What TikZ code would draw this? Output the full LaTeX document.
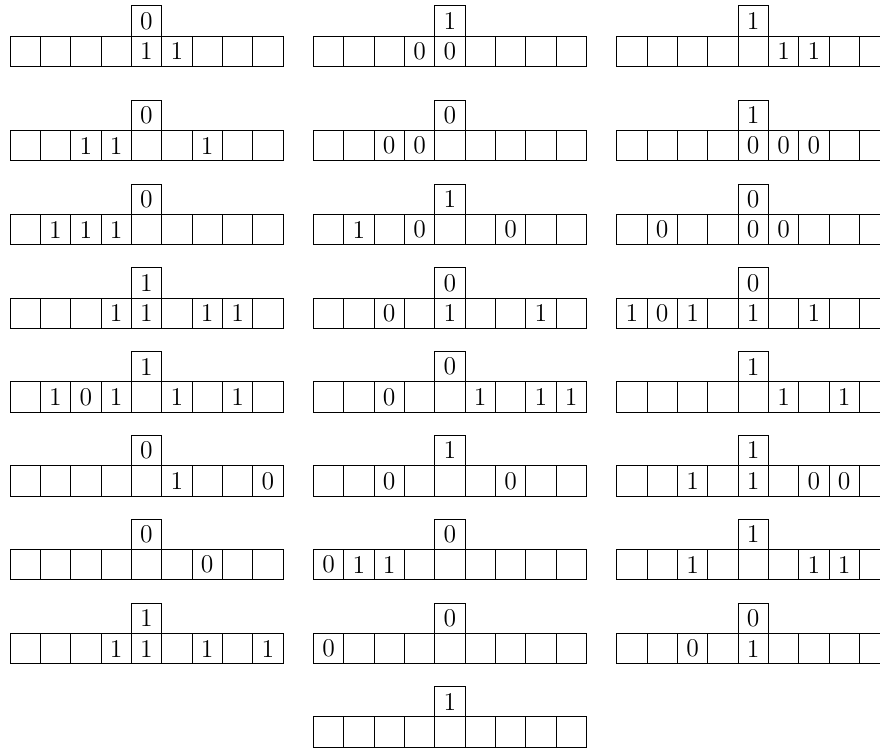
\documentclass[tikz,border=0pt]{standalone}
\usepackage{tikz}

\begin{document}
\begin{tikzpicture}[
    x=0.5cm, y=0.5cm,
    cell/.style={draw, minimum size=0.5cm, inner sep=0pt, outer sep=0pt, font=\large},
    digit/.style={inner sep=0pt, font=\large}
]
\useasboundingbox (0,0) rectangle (29.01,-24.69);
% column / row top / upper bit / filled cells (index/value)
\foreach \cx/\ry/\up/\vals [count=\n] in {
    0/1.19/0/{4/1,5/1}, 1/1.19/1/{3/0,4/0}, 2/1.19/1/{5/1,6/1},
    0/4.30/0/{2/1,3/1,6/1}, 1/4.30/0/{2/0,3/0}, 2/4.30/1/{4/0,5/0,6/0},
    0/7.07/0/{1/1,2/1,3/1}, 1/7.07/1/{1/1,3/0,6/0}, 2/7.07/0/{1/0,4/0,5/0},
    0/9.83/1/{3/1,4/1,6/1,7/1}, 1/9.83/0/{2/0,4/1,7/1}, 2/9.83/0/{0/1,1/0,2/1,4/1,6/1},
    0/12.59/1/{1/1,2/0,3/1,5/1,7/1}, 1/12.59/0/{2/0,5/1,7/1,8/1}, 2/12.59/1/{5/1,7/1},
    0/15.35/0/{5/1,8/0}, 1/15.35/1/{2/0,6/0}, 2/15.35/1/{2/1,4/1,6/0,7/0},
    0/18.11/0/{6/0}, 1/18.11/0/{0/0,1/1,2/1}, 2/18.11/1/{2/1,6/1,7/1},
    0/20.88/1/{3/1,4/1,6/1,8/1}, 1/20.88/0/{0/0}, 2/20.88/0/{2/0,4/1}} {
  \foreach \i in {0,...,8}
    \node[cell] (d\n-\i) at (10*\cx+\i+0.83, -\ry-0.5) {};
  \node[cell] (d\n-t) at (10*\cx+4.83, -\ry+0.5) {\up};
  \foreach \i/\v in \vals
    \node[digit] (v\n-\i) at (d\n-\i) {\v};
}
% last one, no filled cells
\foreach \i in {0,...,8}
  \node[cell] (d25-\i) at (10+\i+0.83, -23.63-0.5) {};
\node[cell] (d25-t) at (14.83, -23.63+0.5) {1};
\end{tikzpicture}
\end{document}
